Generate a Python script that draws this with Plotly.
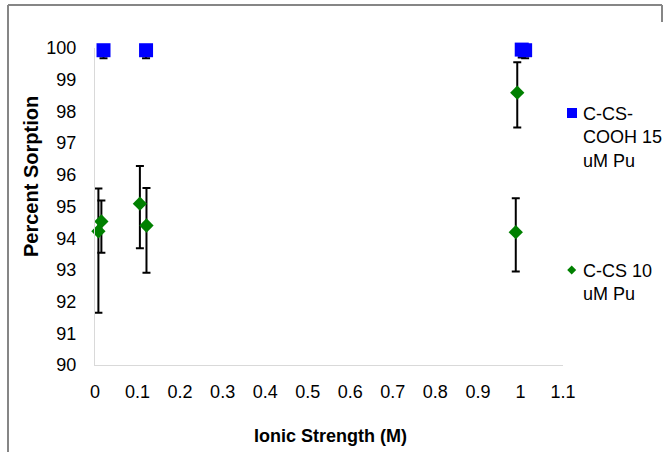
import plotly.graph_objects as go

# ---- data ----
cooh_x = [0.020, 0.120, 1.003, 1.011]
cooh_y = [99.93, 99.93, 99.95, 99.93]
cooh_err_plus = [0.0, 0.0, 0.0, 0.0]
cooh_err_minus = [0.25, 0.25, 0.25, 0.25]

cs_x = [0.008, 0.015, 0.1055, 0.121, 0.9925, 0.989]
cs_y = [94.22, 94.53, 95.09, 94.40, 98.59, 94.19]
cs_err_plus = [1.35, 0.66, 1.19, 1.18, 0.96, 1.07]
cs_err_minus = [2.57, 0.99, 1.41, 1.49, 1.10, 1.24]

x_ticks = [0, 0.1, 0.2, 0.3, 0.4, 0.5, 0.6, 0.7, 0.8, 0.9, 1.0, 1.1]
x_tick_labels = ["0", "0.1", "0.2", "0.3", "0.4", "0.5", "0.6", "0.7", "0.8", "0.9", "1", "1.1"]
y_ticks = [90, 91, 92, 93, 94, 95, 96, 97, 98, 99, 100]
y_tick_labels = [str(v) for v in y_ticks]

series_names = ["C-CS-COOH 15 uM Pu", "C-CS 10 uM Pu"]

# ---- layout geometry (pixels) ----
W, H = 669, 452
L, R, T, B = 95, 563, 48, 365


def px(xp):
    return (xp - L) / (R - L)


def py(yp):
    return (B - yp) / (B - T)


FONT = "Liberation Sans, Arial, sans-serif"

fig = go.Figure()
fig.add_trace(go.Scatter(
    x=cooh_x, y=cooh_y, mode="markers", name=series_names[0], showlegend=False,
    marker=dict(symbol="square", size=14, color="#0000FF"),
    error_y=dict(type="data", symmetric=False, array=cooh_err_plus,
                 arrayminus=cooh_err_minus, color="black", thickness=2, width=4),
    cliponaxis=False,
))
fig.add_trace(go.Scatter(
    x=cs_x, y=cs_y, mode="markers", name=series_names[1], showlegend=False,
    marker=dict(symbol="diamond", size=11, color="#008000"),
    error_y=dict(type="data", symmetric=False, array=cs_err_plus,
                 arrayminus=cs_err_minus, color="black", thickness=2, width=4),
    cliponaxis=False,
))

fig.update_layout(
    width=W, height=H,
    margin=dict(l=L, r=W - R, t=T, b=H - B, pad=0),
    paper_bgcolor="white", plot_bgcolor="white",
    font=dict(family=FONT, size=18, color="black"),
    showlegend=False,
)
fig.update_xaxes(
    range=[0, 1.1], tickvals=x_ticks, ticktext=x_tick_labels,
    showgrid=False, zeroline=False, showline=True, linecolor="#d9d9d9", linewidth=1,
    ticks="", ticklabelstandoff=10, tickfont=dict(size=18),
)
fig.update_yaxes(
    range=[90, 100], tickvals=y_ticks, ticktext=y_tick_labels,
    showgrid=False, zeroline=False, showline=True, linecolor="#d9d9d9", linewidth=1,
    ticks="", ticklabelstandoff=14, tickfont=dict(size=18),
)

annotations = [
    dict(text="<b>Ionic Strength (M)</b>", x=px(330), y=py(436), xref="paper", yref="paper",
         showarrow=False, xanchor="center", yanchor="middle", font=dict(size=18)),
    dict(text="<b>Percent Sorption</b>", x=px(31), y=py(177), xref="paper", yref="paper",
         showarrow=False, xanchor="center", yanchor="middle", textangle=-90, font=dict(size=20)),
    dict(text="C-CS-<br>COOH 15<br>uM Pu", x=px(581), y=py(102), xref="paper", yref="paper",
         showarrow=False, xanchor="left", yanchor="top", align="left", font=dict(size=18)),
    dict(text="C-CS 10<br>uM Pu", x=px(581), y=py(259), xref="paper", yref="paper",
         showarrow=False, xanchor="left", yanchor="top", align="left", font=dict(size=18)),
]

shapes = [
    # outer frame (gray)
    dict(type="line", xref="paper", yref="paper", x0=px(8), x1=px(662), y0=py(5), y1=py(5),
         line=dict(color="#868686", width=2)),
    dict(type="line", xref="paper", yref="paper", x0=px(8), x1=px(8), y0=py(5), y1=py(455),
         line=dict(color="#868686", width=2)),
    dict(type="line", xref="paper", yref="paper", x0=px(662), x1=px(662), y0=py(5), y1=py(22),
         line=dict(color="#868686", width=2)),
    # legend markers
    dict(type="rect", xref="paper", yref="paper", x0=px(567), x1=px(577), y0=py(108), y1=py(118),
         fillcolor="#0000FF", line=dict(width=0)),
    dict(type="path", xref="paper", yref="paper",
         path="M {a},{b} L {c},{d} L {a},{e} L {f},{d} Z".format(
             a=px(571.7), b=py(265.5), c=px(576.2), d=py(270), e=py(274.5), f=px(567.2)),
         fillcolor="#008000", line=dict(width=0)),
]

fig.update_layout(annotations=annotations, shapes=shapes)
fig.write_html("out.html")
